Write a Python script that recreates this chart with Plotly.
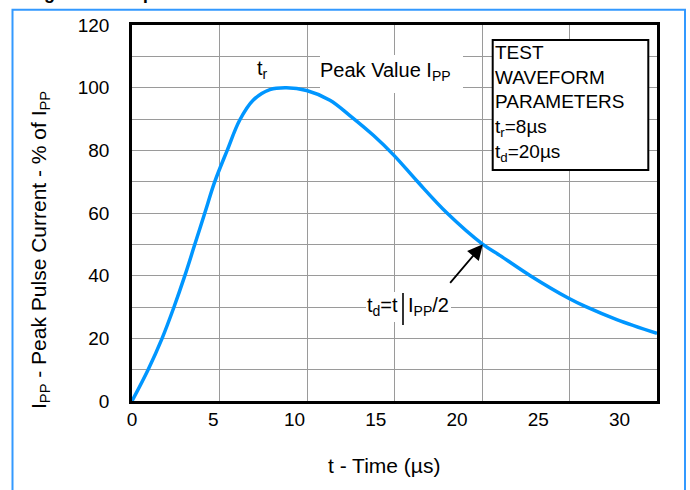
import numpy as np
import plotly.graph_objects as go

# ---- data ----
t_us = [0, 0.92, 1.72, 2.40, 3.02, 3.59, 4.16, 4.73, 5.44, 6.15, 6.92, 7.88, 8.83,
        9.98, 11.31, 12.45, 13.79, 14.97, 16.27, 18.0, 20.05, 21.04, 22.76, 24.95,
        25.9, 27.7, 30.0]
ipp_pct = [0, 10, 20, 30, 40, 50, 60, 70, 80, 89.6, 96.0, 99.4, 100,
           99.1, 96.0, 91.1, 84.8, 78.4, 70.3, 60, 50, 46.4, 40, 32.8,
           30.2, 26, 21.6]
x_tick_labels = [0, 5, 10, 15, 20, 25, 30]
y_tick_labels = [0, 20, 40, 60, 80, 100, 120]
params_text = ["TEST", "WAVEFORM", "PARAMETERS", "t<sub>r</sub>=8µs", "t<sub>d</sub>=20µs"]

# ---- figure geometry ----
W, H = 690, 490
L, R, T, B = 132, 33, 25, 89
PW, PH = W - L - R, H - T - B
XMAX, YMAX = 30, 120
FONT = "Liberation Sans, Arial, sans-serif"


def px(xp):
    return (xp - L) / PW


def py(yp):
    return (H - B - yp) / PH


def dx(xp):
    return px(xp) * XMAX


def dy(yp):
    return py(yp) * YMAX


# t_d: time where current falls back to 50 % (from the data, descending part)
ipk = int(np.argmax(ipp_pct))
td = float(np.interp(50, ipp_pct[ipk:][::-1], t_us[ipk:][::-1]))

fig = go.Figure()
fig.add_trace(go.Scatter(
    x=t_us, y=ipp_pct, mode="lines",
    line=dict(color="#0096ff", width=3.5, shape="spline", smoothing=1.0),
    showlegend=False, hoverinfo="skip"))
# invisible helper trace so the tick-label axis is drawn
fig.add_trace(go.Scatter(
    x=x_tick_labels, y=[0] * len(x_tick_labels), xaxis="x2", mode="markers",
    marker=dict(opacity=0), showlegend=False, hoverinfo="skip"))

grid = "#9a9a9a"
fig.update_layout(
    width=W, height=H,
    margin=dict(l=L, r=R, t=T, b=B, pad=0),
    paper_bgcolor="white", plot_bgcolor="white",
    font=dict(family=FONT, color="black", size=19),
    showlegend=False,
    xaxis=dict(range=[0, XMAX], dtick=5, tick0=0, showticklabels=False, ticks="",
               showgrid=True, gridcolor=grid, gridwidth=1.2, zeroline=False,
               showline=True, mirror=True, linecolor="black", linewidth=2.5),
    xaxis2=dict(overlaying="x", anchor="y", side="bottom", range=[0, 32.3],
                tickmode="array", tickvals=x_tick_labels,
                ticktext=[str(v) for v in x_tick_labels],
                showgrid=False, zeroline=False, showline=False, ticks="",
                ticklabelstandoff=5, tickfont=dict(size=19, family=FONT)),
    yaxis=dict(range=[0, YMAX], tickmode="array", tickvals=y_tick_labels,
               ticktext=[str(v) for v in y_tick_labels],
               ticks="", ticklabelstandoff=16, tickfont=dict(size=19, family=FONT),
               showgrid=True, gridcolor=grid, gridwidth=1.2, zeroline=False,
               minor=dict(dtick=10, tick0=0, showgrid=True, gridcolor=grid, gridwidth=1.2),
               showline=True, mirror=True, linecolor="black", linewidth=2.5),
)

shapes = [
    # light-blue outer frame
    dict(type="rect", xref="paper", yref="paper", x0=px(12.5), x1=px(685),
         y0=py(530), y1=py(9.7), line=dict(color="#3399ff", width=2), layer="below"),
    # white box behind "Peak Value"
    dict(type="rect", xref="x", yref="y", x0=dx(320), x1=dx(463), y0=dy(93), y1=dy(55),
         fillcolor="white", line=dict(width=0), layer="between"),
    # white box behind t_d label
    dict(type="rect", xref="x", yref="y", x0=dx(366), x1=dx(451), y0=dy(322), y1=dy(292),
         fillcolor="white", line=dict(width=0), layer="between"),
    # parameter box
    dict(type="rect", xref="x", yref="y", x0=dx(492.7), x1=dx(648.3), y0=dy(170), y1=dy(40),
         fillcolor="white", line=dict(color="black", width=2), layer="between"),
    # vertical bar in t_d label
    dict(type="line", xref="x", yref="y", x0=dx(403), x1=dx(403), y0=dy(325), y1=dy(293),
         line=dict(color="black", width=1.6), layer="above"),
]
fig.update_layout(shapes=shapes)

C = dict(xanchor="center", yanchor="middle", showarrow=False,
         xref="paper", yref="paper")
ann = []
ann.append(dict(C, text="t<sub>r</sub>", x=px(262), y=py(70), font=dict(size=20)))
ann.append(dict(C, text="Peak Value I<sub>PP</sub>", x=px(385.5), y=py(71),
                font=dict(size=20)))
ann.append(dict(C, text="t<sub>d</sub>=t", x=px(400), y=py(306), xanchor="right",
                font=dict(size=20)))
ann.append(dict(C, text="I<sub>PP</sub>/2", x=px(406), y=py(306), xanchor="left",
                font=dict(size=20)))
ann.append(dict(text="", xref="x", yref="y", x=td, y=50, ax=-34, ay=40,
                showarrow=True, arrowhead=2, arrowsize=1.7, arrowwidth=1.8,
                arrowcolor="black", standoff=0))
ann.append(dict(C, text="<br>".join(params_text), x=px(493), y=py(40),
                xanchor="left", yanchor="top", align="left", font=dict(size=19)))
ann.append(dict(C, text="I<sub>PP</sub> - Peak Pulse Current - % of I<sub>PP</sub>",
                x=px(40), y=py(250), textangle=-90, font=dict(size=21)))
ann.append(dict(C, text="t - Time (µs)", x=px(384), y=py(465), font=dict(size=21)))
ann.append(dict(C, text="<b>Figure 3. 8/20µs Pulse Waveform</b>", x=px(26), y=py(-7),
                xanchor="left", font=dict(size=18)))
fig.update_layout(annotations=ann)

fig.write_html("out.html", config={"displayModeBar": False},
               post_script="document.body.style.margin='0px';")
